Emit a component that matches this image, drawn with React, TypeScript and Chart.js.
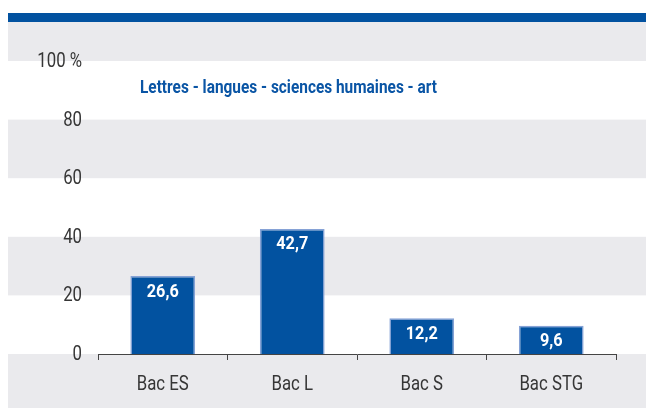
import React, { useEffect, useRef } from "react";
import { Chart, registerables } from "chart.js";

Chart.register(...registerables);

const categories = ["Bac ES", "Bac L", "Bac S", "Bac STG"];
const values = [26.6, 42.7, 12.2, 9.6];
const tickValues = [0, 20, 40, 60, 80, 100];
const title = "Lettres - langues - sciences humaines - art";

const BLUE = "#0252a0";
const GRAY = "#eaeaed";
const FONT = "Roboto, 'Liberation Sans', sans-serif";
const TEXT = "#363636";

function fmtTick(v: number) {
  return v === 100 ? "100 %" : String(v);
}

// draw horizontally condensed text (the reference uses a narrow typeface)
function narrowText(ctx: any, text: string, x: number, y: number, sx: number, align: "left" | "center" | "right") {
  ctx.save();
  ctx.translate(x, y);
  ctx.scale(sx, 1);
  ctx.textAlign = align;
  ctx.textBaseline = "middle";
  ctx.fillText(text, 0, 0);
  ctx.restore();
}

function fitScale(ctx: any, font: string, sample: string, target: number) {
  ctx.save();
  ctx.font = font;
  const w = ctx.measureText(sample).width;
  ctx.restore();
  return w > 0 ? target / w : 1;
}

const bgPlugin = {
  id: "bgBands",
  beforeDraw(chart: any) {
    const { ctx, width, height } = chart;
    const y = chart.scales.y;
    ctx.save();
    ctx.fillStyle = "#ffffff";
    ctx.fillRect(0, 0, width, height);
    const left = 8;
    ctx.fillStyle = GRAY;
    const top100 = y.getPixelForValue(100);
    ctx.fillRect(left, 22, width - left, top100 - 22);
    const bands = [[60, 80], [20, 40]];
    for (const [a, b] of bands) {
      const yb = y.getPixelForValue(b);
      const ya = y.getPixelForValue(a);
      ctx.fillRect(left, yb, width - left, ya - yb);
    }
    const y0 = y.getPixelForValue(0);
    ctx.fillRect(left, y0, width - left, height - y0);
    ctx.fillStyle = BLUE;
    ctx.fillRect(left, 13, width - left, 9);
    ctx.restore();
  },
};

const textPlugin = {
  id: "texts",
  afterDraw(chart: any) {
    const { ctx } = chart;
    const xs = chart.scales.x;
    const ys = chart.scales.y;
    ctx.save();

    // axis labels
    const axisFont = `20px ${FONT}`;
    const sxAxis = fitScale(ctx, axisFont, "Bac ES", 52);
    ctx.font = axisFont;
    ctx.fillStyle = TEXT;
    ys.ticks.forEach((t: any) => {
      narrowText(ctx, fmtTick(t.value), 82, ys.getPixelForValue(t.value) + 1, sxAxis, "right");
    });
    categories.forEach((c, i) => {
      narrowText(ctx, c, xs.getPixelForValue(i), 385, sxAxis, "center");
    });

    // bar value labels
    const valFont = `bold 18px ${FONT}`;
    const sxVal = fitScale(ctx, valFont, "26,6", 32);
    ctx.font = valFont;
    ctx.fillStyle = "#ffffff";
    const meta = chart.getDatasetMeta(0);
    meta.data.forEach((bar: any, i: number) => {
      const txt = values[i].toFixed(1).replace(".", ",");
      narrowText(ctx, txt, bar.x, bar.y + 16, sxVal, "center");
    });

    // title
    const tFont = `bold 19px ${FONT}`;
    const sxT = fitScale(ctx, tFont, title, 297);
    ctx.font = tFont;
    ctx.fillStyle = "#0a55a5";
    narrowText(ctx, title, 288.5, 88, sxT, "center");
    ctx.restore();
  },
};

export default function App() {
  const ref = useRef<HTMLCanvasElement>(null);
  useEffect(() => {
    const chart = new Chart(ref.current!, {
      type: "bar",
      data: {
        labels: categories,
        datasets: [
          {
            data: values,
            backgroundColor: BLUE,
            borderColor: "#86a2d6",
            borderWidth: 1.5,
            barPercentage: 0.5,
            categoryPercentage: 1,
          },
        ],
      },
      options: {
        animation: false,
        responsive: false,
        layout: { padding: { top: 61, left: 0, right: 30, bottom: 0 } },
        plugins: { legend: { display: false }, tooltip: { enabled: false }, title: { display: false } },
        scales: {
          y: {
            min: 0,
            max: 100,
            afterFit(scale: any) {
              scale.width = 98;
            },
            afterBuildTicks(scale: any) {
              scale.ticks = tickValues.map((v) => ({ value: v }));
            },
            ticks: { display: false, callback: (v: any) => fmtTick(v) },
            grid: { display: false, drawTicks: false },
            border: { display: false },
          },
          x: {
            afterFit(scale: any) {
              scale.height = 54;
            },
            ticks: { display: false },
            grid: {
              offset: true,
              drawOnChartArea: false,
              drawTicks: true,
              tickLength: 6,
              color: "#444444",
              lineWidth: 1,
            },
            border: { display: true, color: "#444444", width: 1 },
          },
        },
      },
      plugins: [bgPlugin, textPlugin],
    });
    return () => chart.destroy();
  }, []);
  return (
    <div style={{ position: "fixed", left: 0, top: 0, width: 646, height: 408 }}>
      <canvas ref={ref} width={646} height={408} style={{ width: 646, height: 408, display: "block" }} />
    </div>
  );
}
